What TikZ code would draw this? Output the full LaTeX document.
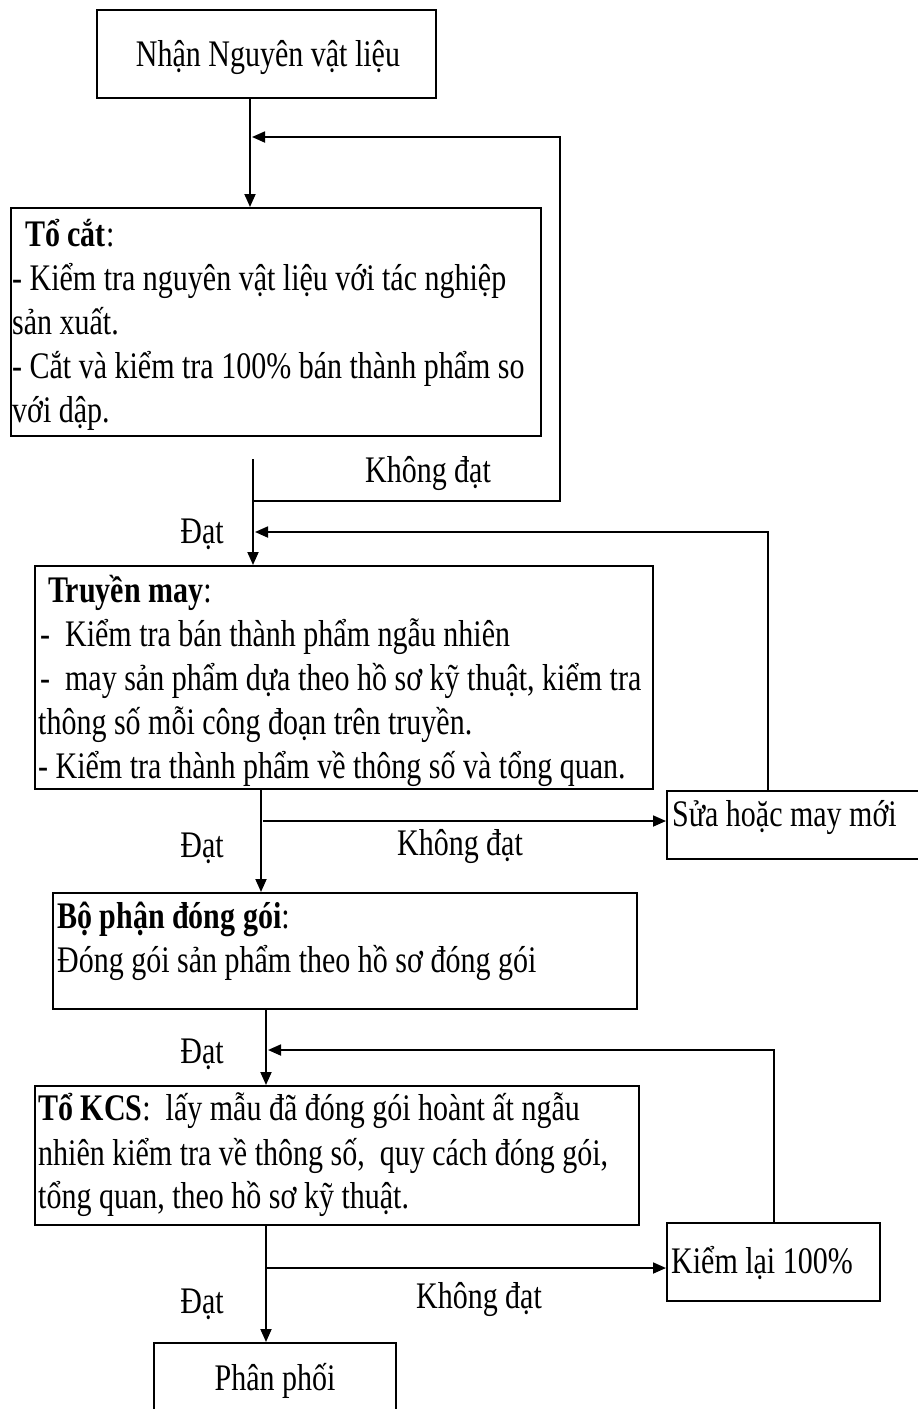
\documentclass[tikz,border=0pt]{standalone}
\usepackage{fontspec}
\setmainfont[FakeStretch=0.8]{Liberation Serif}
\usetikzlibrary{arrows.meta}
\begin{document}
\begin{tikzpicture}[x=1pt,y=-1pt,
  box/.style={draw=black, line width=1.8pt, rectangle, inner sep=0pt, anchor=north west},
  txt/.style={anchor=base west, inner sep=0pt, font=\fontsize{37.5}{43.5}\selectfont},
  lbl/.style={anchor=base, inner sep=0pt, font=\fontsize{37.5}{43.5}\selectfont},
  link/.style={line width=1.8pt},
  flow/.style={line width=1.8pt, -{Triangle[length=13pt,width=11pt]}}]
\clip (0,0) rectangle (918,1409);

% process boxes
\node[box, minimum width=339pt, minimum height=88pt]  (recv) at (96,9) {};
\node[box, minimum width=530pt, minimum height=228pt] (cat)  at (10,207) {};
\node[box, minimum width=618pt, minimum height=223pt] (may)  at (34,565) {};
\node[box, minimum width=270pt, minimum height=68pt]  (sua)  at (666,790) {};
\node[box, minimum width=584pt, minimum height=116pt] (goi)  at (52,892) {};
\node[box, minimum width=604pt, minimum height=139pt] (kcs)  at (34,1085) {};
\node[box, minimum width=213pt, minimum height=78pt]  (kiem) at (666,1222) {};
\node[box, minimum width=242pt, minimum height=100pt] (phan) at (153,1342) {};

% box texts
\node[lbl] (recvT) at (268,66) {Nhận Nguyên vật liệu};

\node[txt] (cat1) at (25,246) {\textbf{Tổ cắt}:};
\node[txt] (cat2) at (12,290) {- Kiểm tra nguyên vật liệu với tác nghiệp};
\node[txt] (cat3) at (12,334) {sản xuất.};
\node[txt] (cat4) at (12,378) {- Cắt và kiểm tra 100\% bán thành phẩm so};
\node[txt] (cat5) at (12,422) {với dập.};

\node[txt] (may1) at (48,602) {\textbf{Truyền may}:};
\node[txt] (may2) at (40,646) {-\ \ Kiểm tra bán thành phẩm ngẫu nhiên};
\node[txt] (may3) at (40,690) {-\ \ may sản phẩm dựa theo hồ sơ kỹ thuật, kiểm tra};
\node[txt] (may4) at (38,734) {thông số mỗi công đoạn trên truyền.};
\node[txt] (may5) at (38,778) {- Kiểm tra thành phẩm về thông số và tổng quan.};

\node[txt] (suaT) at (672,826) {Sửa hoặc may mới};

\node[txt] (goi1) at (57,928) {\textbf{Bộ phận đóng gói}:};
\node[txt] (goi2) at (57,972) {Đóng gói sản phẩm theo hồ sơ đóng gói};

\node[txt] (kcs1) at (38,1120) {\textbf{Tổ KCS}:\ \ lấy mẫu đã đóng gói hoànt ất ngẫu};
\node[txt] (kcs2) at (38,1165) {nhiên kiểm tra về thông số,\ \ quy cách đóng gói,};
\node[txt] (kcs3) at (38,1208) {tổng quan, theo hồ sơ kỹ thuật.};

\node[txt] (kiemT) at (671,1273) {Kiểm lại 100\%};
\node[lbl] (phanT) at (275,1390) {Phân phối};

% branch labels
\node[lbl] (no1)  at (428,482)  {Không đạt};
\node[lbl] (ok1)  at (202,543)  {Đạt};
\node[lbl] (ok2)  at (202,857)  {Đạt};
\node[lbl] (no2)  at (460,855)  {Không đạt};
\node[lbl] (ok3)  at (202,1063) {Đạt};
\node[lbl] (ok4)  at (202,1313) {Đạt};
\node[lbl] (no3)  at (479,1308) {Không đạt};

% trunk positions and corner points of the loops
\coordinate (t1) at (250,0);
\coordinate (s2) at (253,459);
\coordinate (j1) at (253,501);
\coordinate (k1) at (560,501);
\coordinate (m1) at (252,137);
\coordinate (u2) at (768,532);
\coordinate (m2) at (255,532);
\coordinate (t3) at (261,0);
\coordinate (b1) at (263,821);
\coordinate (t4) at (266,0);
\coordinate (u3) at (774,1050);
\coordinate (m3) at (268,1050);
\coordinate (b2) at (266,1268);

% main flow
\draw[flow] (recv.south -| t1) -- (cat.north -| t1);
\draw[flow] (s2) -- (may.north -| s2);
\draw[flow] (may.south -| t3) -- (goi.north -| t3);
\draw[flow] (goi.south -| t4) -- (kcs.north -| t4);
\draw[flow] (kcs.south -| t4) -- (phan.north -| t4);

% rejection loops
\draw[flow] (j1) -- (k1) |- (m1);
\draw[flow] (b1) -- (b1 -| sua.west);
\draw[flow] (sua.north -| u2) -- (u2) -- (m2);
\draw[flow] (b2) -- (b2 -| kiem.west);
\draw[flow] (kiem.north -| u3) -- (u3) -- (m3);
\end{tikzpicture}
\end{document}
